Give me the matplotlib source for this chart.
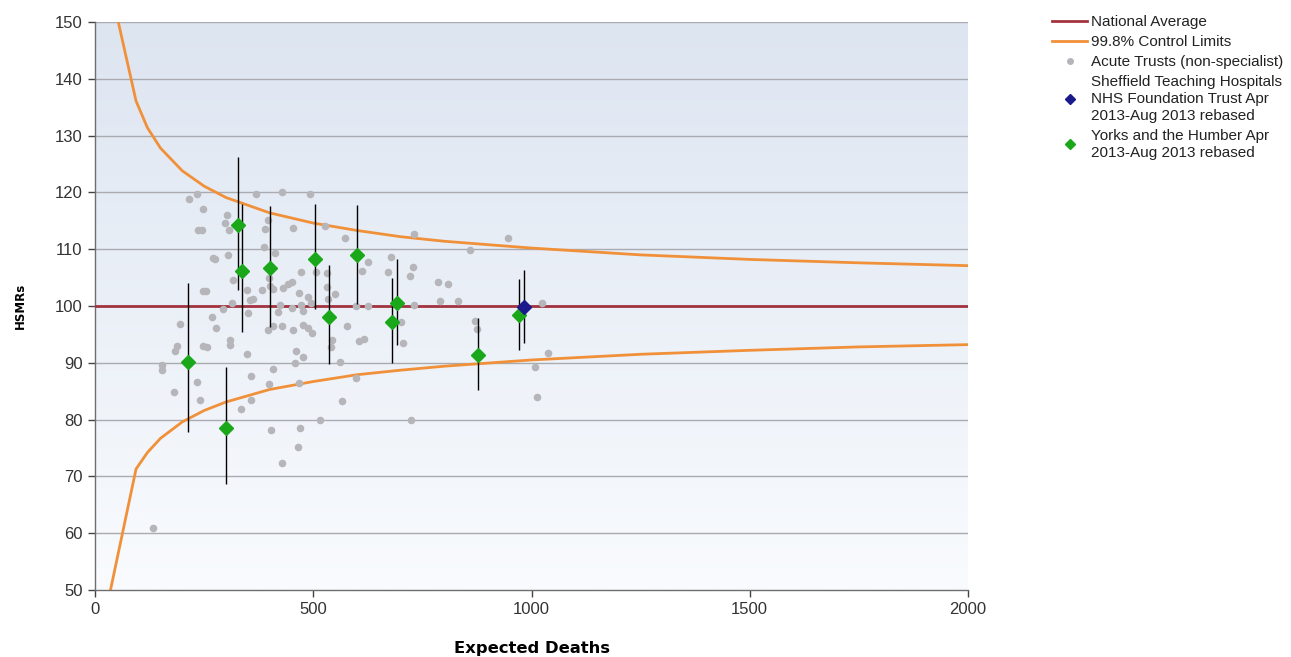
import numpy as np
import matplotlib
matplotlib.use("Agg")
import matplotlib.pyplot as plt
from matplotlib.lines import Line2D

# ── data ─────────────────────────────────────────────────────
NATIONAL_AVG = 100

# 99.8% control limits (expected deaths -> HSMR)
limit_x     = [30, 94, 120, 150, 200, 250, 300, 400, 500, 600, 700, 800,
               1000, 1250, 1500, 1750, 2000]
limit_upper = [158.0, 136.1, 131.4, 127.8, 123.8, 121.1, 119.1, 116.4, 114.6,
               113.3, 112.2, 111.4, 110.2, 109.0, 108.2, 107.6, 107.1]
limit_lower = [48.0, 71.3, 74.2, 76.7, 79.6, 81.6, 83.1, 85.3, 86.7,
               87.9, 88.7, 89.4, 90.5, 91.5, 92.2, 92.8, 93.2]

# acute trusts (non-specialist)
acute_x = [233, 216, 247, 237, 245, 303, 298, 308, 369, 429, 493, 454, 389,
           397, 527, 387, 270, 276, 304, 412, 471, 507, 317, 248, 255, 349,
           382, 363, 355, 398, 401, 407, 431, 443, 451, 468, 489, 494, 531,
           532, 315, 294, 424, 451, 471, 477, 420, 351, 268, 195, 278, 397,
           407, 428, 454, 477, 489, 498, 309, 309, 188, 183, 248, 257, 349,
           460, 477, 153, 153, 458, 407, 357, 399, 468, 234, 181, 241, 358,
           334, 515, 403, 470, 466, 428, 133, 573, 626, 611, 678, 672, 728,
           722, 730, 858, 946, 550, 534, 785, 809, 790, 831, 731, 1023, 599,
           626, 577, 544, 541, 605, 616, 561, 598, 567, 723, 700, 706, 871,
           876, 1037, 1008, 1012]
acute_y = [119.8, 118.8, 117.0, 113.3, 113.3, 116.0, 114.7, 113.4, 119.8,
           120.1, 119.7, 113.7, 113.5, 115.1, 114.1, 110.4, 108.4, 108.3,
           108.9, 109.4, 106.0, 106.0, 104.6, 102.7, 102.6, 102.8, 102.8,
           101.2, 101.1, 104.9, 103.6, 103.0, 103.1, 103.9, 104.2, 102.3,
           101.6, 100.5, 105.8, 103.4, 100.6, 99.4, 100.1, 99.6, 100.1, 99.1,
           99.0, 98.7, 98.0, 96.8, 96.2, 95.8, 96.4, 96.4, 95.7, 96.7, 96.1,
           95.3, 94.1, 93.1, 92.9, 92.0, 93.0, 92.7, 91.6, 92.0, 91.1, 89.6,
           88.7, 90.0, 88.9, 87.7, 86.2, 86.4, 86.7, 84.8, 83.5, 83.4, 81.8,
           79.9, 78.2, 78.5, 75.2, 72.3, 60.9, 112.0, 107.8, 106.2, 108.7,
           105.9, 106.8, 105.3, 112.6, 109.9, 111.9, 102.1, 101.2, 104.2,
           103.8, 100.8, 100.9, 100.2, 100.6, 100.0, 100.0, 96.5, 94.1, 92.8,
           93.8, 94.2, 90.2, 87.3, 83.3, 80.0, 97.1, 93.4, 97.3, 95.9, 91.8,
           89.3, 83.9]

# Yorks and the Humber trusts with confidence intervals
yorks_x  = [213, 300, 327, 337, 401, 504, 536, 600, 680, 692, 878, 971]
yorks_y  = [90.1, 78.5, 114.3, 106.2, 106.7, 108.3, 98.1, 109.0, 97.2, 100.5, 91.4, 98.4]
yorks_hi = [104.0, 89.3, 126.2, 118.0, 117.6, 118.0, 107.2, 117.8, 104.9, 108.3, 97.9, 104.8]
yorks_lo = [77.8, 68.7, 102.8, 95.4, 96.3, 99.5, 89.8, 100.4, 89.9, 93.1, 85.2, 92.3]

# Sheffield Teaching Hospitals
sth_x, sth_y, sth_hi, sth_lo = [982], [99.8], [106.3], [93.5]

XTICKS = [0, 500, 1000, 1500, 2000]
YTICKS = list(range(50, 151, 10))

# ── colours ──────────────────────────────────────────────────
C_AVG   = "#a3333f"
C_LIM   = "#f0913a"
C_DOT   = "#b6b6ba"
C_GREEN = "#1aa81a"
C_BLUE  = "#1a1a8c"
C_GRID  = "#a9abb0"

plt.rcParams["font.family"] = ["Liberation Sans", "DejaVu Sans"]

fig = plt.figure(figsize=(12.91, 6.57), dpi=100)
ax = fig.add_axes([95 / 1291, 67 / 657, 873 / 1291, 568 / 657])
ax.set_xlim(0, 2000)
ax.set_ylim(50, 150)

# gradient background
grad = np.linspace(0, 1, 256).reshape(-1, 1)
top = np.array([221, 229, 241]) / 255
bot = np.array([249, 251, 254]) / 255
img = top * (1 - grad) + bot * grad
ax.imshow(img[:, None, :], extent=[0, 2000, 50, 150], aspect="auto",
          origin="upper", zorder=0)

for yv in YTICKS[1:]:
    ax.axhline(yv, color=C_GRID, lw=1.0, zorder=1)

ax.plot(limit_x, limit_upper, color=C_LIM, lw=2.0, zorder=3)
ax.plot(limit_x, limit_lower, color=C_LIM, lw=2.0, zorder=3)
ax.axhline(NATIONAL_AVG, color=C_AVG, lw=2.0, zorder=3)

ax.scatter(acute_x, acute_y, s=30, color=C_DOT, zorder=4, linewidths=0)

yerr = [np.array(yorks_y) - np.array(yorks_lo), np.array(yorks_hi) - np.array(yorks_y)]
ax.errorbar(yorks_x, yorks_y, yerr=yerr, fmt="none", ecolor="black",
            elinewidth=1.0, capsize=0, zorder=5)
serr = [np.array(sth_y) - np.array(sth_lo), np.array(sth_hi) - np.array(sth_y)]
ax.errorbar(sth_x, sth_y, yerr=serr, fmt="none", ecolor="black",
            elinewidth=1.0, capsize=0, zorder=5)
ax.plot(yorks_x, yorks_y, "D", color=C_GREEN, ms=7.5, mec=C_GREEN, zorder=6)
ax.plot(sth_x, sth_y, "D", color=C_BLUE, ms=7.5, mec=C_BLUE, zorder=6)

for s in ("top", "right"):
    ax.spines[s].set_visible(False)
for s in ("left", "bottom"):
    ax.spines[s].set_color("#6e6e6e")
    ax.spines[s].set_linewidth(1.0)

ax.set_xticks(XTICKS)
ax.set_yticks(YTICKS)
ax.tick_params(axis="both", direction="out", length=5, width=1.0,
               color="#444444", labelsize=12, labelcolor="#333333", pad=4)
ax.set_xlabel("Expected Deaths", fontsize=11.8, fontweight="bold",
              family="DejaVu Sans", labelpad=17)
ax.set_ylabel("HSMRs", fontsize=8.5, fontweight="bold",
              family="DejaVu Sans", labelpad=20)

handles = [
    Line2D([], [], color=C_AVG, lw=2),
    Line2D([], [], color=C_LIM, lw=2),
    Line2D([], [], ls="none", marker="o", ms=4, color=C_DOT),
    Line2D([], [], ls="none", marker="D", ms=5.5, color=C_BLUE),
    Line2D([], [], ls="none", marker="D", ms=5.5, color=C_GREEN),
]
labels = [
    "National Average",
    "99.8% Control Limits",
    "Acute Trusts (non-specialist)",
    "Sheffield Teaching Hospitals\nNHS Foundation Trust Apr\n2013-Aug 2013 rebased",
    "Yorks and the Humber Apr\n2013-Aug 2013 rebased",
]
leg = fig.legend(handles, labels, loc="upper left",
                 bbox_to_anchor=(1052 / 1291, 1 - 15 / 657),
                 frameon=False, fontsize=11, handlelength=2.3, handletextpad=0.25,
                 labelspacing=0.4, borderaxespad=0, borderpad=0)
for t in leg.get_texts():
    t.set_linespacing(1.25)
    t.set_color("#222222")

fig.savefig("out.png", dpi=100)
